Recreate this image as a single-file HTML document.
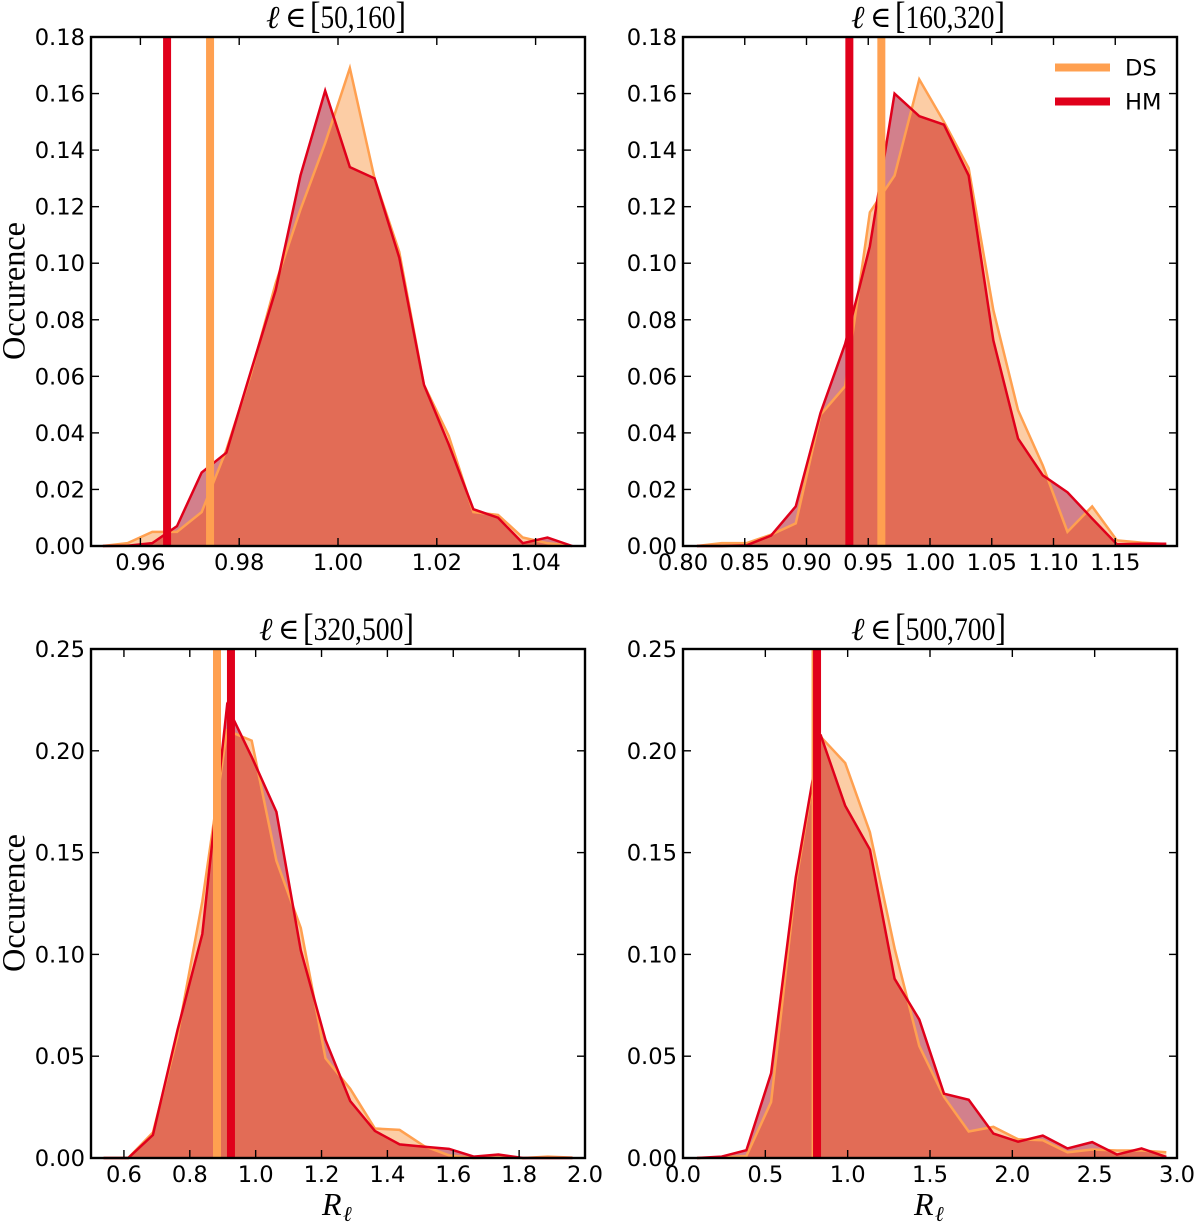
<!DOCTYPE html>
<html lang="en">
<head>
<meta charset="utf-8">
<title>Occurence of R_l per multipole range</title>
<style>
html,body{margin:0;padding:0;background:#fff;width:1200px;height:1225px;overflow:hidden}
svg{display:block}
.tick-label{font-family:"DejaVu Sans",sans-serif;font-size:22.6px;fill:#000}
.serif{font-family:"Liberation Serif","DejaVu Serif",serif;fill:#000}
</style>
</head>
<body>
<svg id="figure" xmlns="http://www.w3.org/2000/svg" width="1200" height="1225" viewBox="0 0 1200 1225">
<rect x="0" y="0" width="1200" height="1225" fill="#fff"/>
</svg>
<script>
// ---- Panel 1 : l in [50,160]
const p1Bins = [0.9524,0.9574,0.9624,0.9674,0.9724,0.9774,0.9824,0.9874,0.9924,0.9974,1.0024,1.0074,1.0124,1.0174,1.0224,1.0274,1.0324,1.0374,1.0424,1.0474];
const p1DS = [0,0.001,0.005,0.005,0.012,0.034,0.061,0.093,0.119,0.1425,0.169,0.130,0.104,0.057,0.039,0.012,0.011,0.003,0.001,0];
const p1HM = [0,0.0001,0.001,0.007,0.026,0.033,0.062,0.0906,0.131,0.161,0.134,0.130,0.102,0.057,0.036,0.013,0.010,0.001,0.003,0];
const p1Marks = [0.9741,0.9654];
const p1XLim = [0.95,1.05];
const p1YLim = [0,0.18];
const p1XTicks = ["0.96","0.98","1.00","1.02","1.04"];
const p1YTicks = ["0.00","0.02","0.04","0.06","0.08","0.10","0.12","0.14","0.16","0.18"];

// ---- Panel 2 : l in [160,320]
const p2Bins = [0.8113,0.8313,0.8513,0.8713,0.8913,0.9113,0.9313,0.9513,0.9713,0.9913,1.0113,1.0313,1.0513,1.0713,1.0913,1.1113,1.1313,1.1513,1.1713,1.1913];
const p2DS = [0,0.001,0.001,0.004,0.008,0.0464,0.0565,0.118,0.131,0.165,0.150,0.1336,0.0834,0.048,0.0285,0.005,0.014,0.002,0.0012,0.0007];
const p2HM = [0,0,0.0002,0.0037,0.014,0.047,0.0715,0.106,0.160,0.152,0.149,0.131,0.0727,0.038,0.025,0.019,0.0097,0.0006,0.0008,0.0008];
const p2Marks = [0.9606,0.9347];
const p2XLim = [0.8,1.2];
const p2YLim = [0,0.18];
const p2XTicks = ["0.80","0.85","0.90","0.95","1.00","1.05","1.10","1.15"];
const p2YTicks = ["0.00","0.02","0.04","0.06","0.08","0.10","0.12","0.14","0.16","0.18"];

// ---- Panel 3 : l in [320,500]
const p3Bins = [0.538,0.613,0.688,0.763,0.838,0.913,0.988,1.063,1.137,1.212,1.287,1.362,1.437,1.512,1.587,1.662,1.737,1.812,1.887,1.962];
const p3DS = [0,0,0.0125,0.060,0.126,0.210,0.205,0.146,0.113,0.049,0.034,0.0145,0.0138,0.0058,0.0013,0,0.0003,0,0.0007,0.0002];
const p3HM = [0,0,0.0113,0.063,0.110,0.222,0.197,0.170,0.102,0.058,0.028,0.0133,0.0067,0.0055,0.0045,0.0007,0.0017,0,0,0];
const p3Marks = [0.8826,0.925];
const p3XLim = [0.5,2.0];
const p3YLim = [0,0.25];
const p3XTicks = ["0.6","0.8","1.0","1.2","1.4","1.6","1.8","2.0"];
const p3YTicks = ["0.00","0.05","0.10","0.15","0.20","0.25"];

// ---- Panel 4 : l in [500,700]
const p4Bins = [0.085,0.235,0.385,0.535,0.685,0.835,0.985,1.135,1.285,1.435,1.585,1.735,1.885,2.035,2.185,2.335,2.485,2.635,2.785,2.935];
const p4DS = [0,0.0003,0.001,0.0275,0.135,0.207,0.194,0.160,0.103,0.055,0.030,0.013,0.0153,0.0092,0.0087,0.0028,0.0042,0.0037,0.0037,0.0028];
const p4HM = [0,0.0007,0.0038,0.0416,0.138,0.208,0.173,0.1515,0.088,0.068,0.0316,0.0286,0.012,0.008,0.011,0.0047,0.0078,0.0017,0.0047,0.0005];
const p4Marks = [0.805,0.814];
const p4XLim = [0,3];
const p4YLim = [0,0.25];
const p4XTicks = ["0.0","0.5","1.0","1.5","2.0","2.5","3.0"];
const p4YTicks = ["0.00","0.05","0.10","0.15","0.20","0.25"];

const NS = 'http://www.w3.org/2000/svg';
const svg = document.getElementById('figure');
const ORANGE = '#FFA050', RED = '#E0001B';

function mk(tag, attrs, parent){
  const el = document.createElementNS(NS, tag);
  for (const k in attrs) el.setAttribute(k, attrs[k]);
  parent.appendChild(el);
  return el;
}

function polyPoints(bins, vals, sx, sy, closed){
  const pts = bins.map((b,i)=>sx(b).toFixed(2)+','+sy(vals[i]).toFixed(2));
  if (closed){
    pts.unshift(sx(bins[0]).toFixed(2)+','+sy(0).toFixed(2));
    pts.push(sx(bins[bins.length-1]).toFixed(2)+','+sy(0).toFixed(2));
  }
  return pts.join(' ');
}

function drawPanel(cfg){
  const g = mk('g', {}, svg);
  
  
  const L = cfg.box[0], T = cfg.box[1], R = cfg.box[2], B = cfg.box[3];
  const sx = v => L + (v-cfg.xlim[0])/(cfg.xlim[1]-cfg.xlim[0])*(R-L);
  const sy = v => B - (v-cfg.ylim[0])/(cfg.ylim[1]-cfg.ylim[0])*(B-T);

  const clip = mk('clipPath', {id:'clip-hm-'+cfg.id}, g);
  mk('polygon', {points: polyPoints(cfg.bins, cfg.hm, sx, sy, true)}, clip);

  const fillDs = mk('polygon', {points: polyPoints(cfg.bins, cfg.ds, sx, sy, true), fill:'#FCCDA5'}, g);
  
  

  const fillHm = mk('polygon', {points: polyPoints(cfg.bins, cfg.hm, sx, sy, true), fill:'#D2808C'}, g);
  
  

  const fillBoth = mk('polygon', {points: polyPoints(cfg.bins, cfg.ds, sx, sy, true), fill:'#E26C56', 'clip-path':'url(#clip-hm-'+cfg.id+')'}, g);
  
  

  const lineDs = mk('polyline', {points: polyPoints(cfg.bins, cfg.ds, sx, sy, false), fill:'none', stroke:ORANGE, 'stroke-width':2.5, 'stroke-linejoin':'miter'}, g);
  
  

  const lineHm = mk('polyline', {points: polyPoints(cfg.bins, cfg.hm, sx, sy, false), fill:'none', stroke:RED, 'stroke-width':2.5, 'stroke-linejoin':'miter'}, g);
  
  

  const markDs = mk('line', {x1:sx(cfg.marks[0]), x2:sx(cfg.marks[0]), y1:T, y2:B, stroke:ORANGE, 'stroke-width':8}, g);
  
  

  const markHm = mk('line', {x1:sx(cfg.marks[1]), x2:sx(cfg.marks[1]), y1:T, y2:B, stroke:RED, 'stroke-width':8}, g);
  
  

  cfg.xticks.forEach(lab=>{
    const x = sx(parseFloat(lab));
    const t1 = mk('line', {x1:x, x2:x, y1:B, y2:B-8, stroke:'#000', 'stroke-width':1.4}, g);
    
    
    const t2 = mk('line', {x1:x, x2:x, y1:T, y2:T+8, stroke:'#000', 'stroke-width':1.4}, g);
    
    
    const txt = mk('text', {x:x, y:B+24, 'text-anchor':'middle', class:'tick-label'}, g);
    
    
    txt.textContent = lab;
  });

  cfg.yticks.forEach(lab=>{
    const y = sy(parseFloat(lab));
    const t1 = mk('line', {x1:L, x2:L+8, y1:y, y2:y, stroke:'#000', 'stroke-width':1.4}, g);
    
    
    const t2 = mk('line', {x1:R, x2:R-8, y1:y, y2:y, stroke:'#000', 'stroke-width':1.4}, g);
    
    
    const txt = mk('text', {x:L-6, y:y+8, 'text-anchor':'end', class:'tick-label'}, g);
    
    
    txt.textContent = lab;
  });

  const frame = mk('rect', {x:L, y:T, width:R-L, height:B-T, fill:'none', stroke:'#000', 'stroke-width':2.4}, g);
  
  

  const ell = mk('text', {x:cfg.title[0]-44, y:T-9, class:'serif', 'font-size':32, 'font-style':'italic'}, g);
  
  
  ell.textContent = '\u2113';

  const elem = mk('text', {x:cfg.title[0]-25, y:T-10, class:'serif', 'font-size':29, style:'font-family:"DejaVu Serif",serif'}, g);
  
  
  elem.textContent = '\u2208';

  const rng = mk('text', {x:cfg.title[0], y:T-9, class:'serif', 'font-size':33, textLength:cfg.title[1], lengthAdjust:'spacingAndGlyphs'}, g);
  
  
  const open = mk('tspan', {'font-size':38}, rng);
  open.textContent = '[';
  const inner = mk('tspan', {}, rng);
  inner.textContent = cfg.title[2];
  const close = mk('tspan', {'font-size':38}, rng);
  close.textContent = ']';

  if (cfg.ylabel){
    const yc = (T+B)/2 - 0.5;
    const yl = mk('text', {x:0, y:0, transform:'translate(24.5,'+yc+') rotate(-90)', 'text-anchor':'middle', class:'serif', 'font-size':33, textLength:138, lengthAdjust:'spacingAndGlyphs'}, g);
    
    
    yl.textContent = 'Occurence';
  }
  if (cfg.xlabel){
    const xl = mk('text', {x:L+231, y:B+57, class:'serif', 'font-size':32, 'font-style':'italic'}, g);
    
    
    xl.textContent = 'R';
    const xs = mk('text', {x:L+252, y:B+63, class:'serif', 'font-size':21, 'font-style':'italic'}, g);
    
    
    xs.textContent = '\u2113';
  }
}

drawPanel({id:'l-50-160', box:[91,37,585,546], xlim:p1XLim, ylim:p1YLim, bins:p1Bins, ds:p1DS, hm:p1HM, marks:p1Marks, xticks:p1XTicks, yticks:p1YTicks, title:[310,96,'50,160'], ylabel:true, xlabel:false});
drawPanel({id:'l-160-320', box:[683,37,1177,546], xlim:p2XLim, ylim:p2YLim, bins:p2Bins, ds:p2DS, hm:p2HM, marks:p2Marks, xticks:p2XTicks, yticks:p2YTicks, title:[895,110,'160,320'], ylabel:false, xlabel:false});
drawPanel({id:'l-320-500', box:[91,649,585,1158], xlim:p3XLim, ylim:p3YLim, bins:p3Bins, ds:p3DS, hm:p3HM, marks:p3Marks, xticks:p3XTicks, yticks:p3YTicks, title:[303,111,'320,500'], ylabel:true, xlabel:true});
drawPanel({id:'l-500-700', box:[683,649,1177,1158], xlim:p4XLim, ylim:p4YLim, bins:p4Bins, ds:p4DS, hm:p4HM, marks:p4Marks, xticks:p4XTicks, yticks:p4YTicks, title:[895,111,'500,700'], ylabel:false, xlabel:true});

// legend
const legend = mk('g', {}, svg);



const legDsLine = mk('line', {x1:1055, x2:1110, y1:67.5, y2:67.5, stroke:ORANGE, 'stroke-width':8}, legend);



const legDsText = mk('text', {x:1125, y:75.5, class:'tick-label'}, legend);


legDsText.textContent = 'DS';

const legHmLine = mk('line', {x1:1055, x2:1110, y1:101.5, y2:101.5, stroke:RED, 'stroke-width':8}, legend);



const legHmText = mk('text', {x:1125, y:109.5, class:'tick-label'}, legend);


legHmText.textContent = 'HM';
</script>
</body>
</html>
